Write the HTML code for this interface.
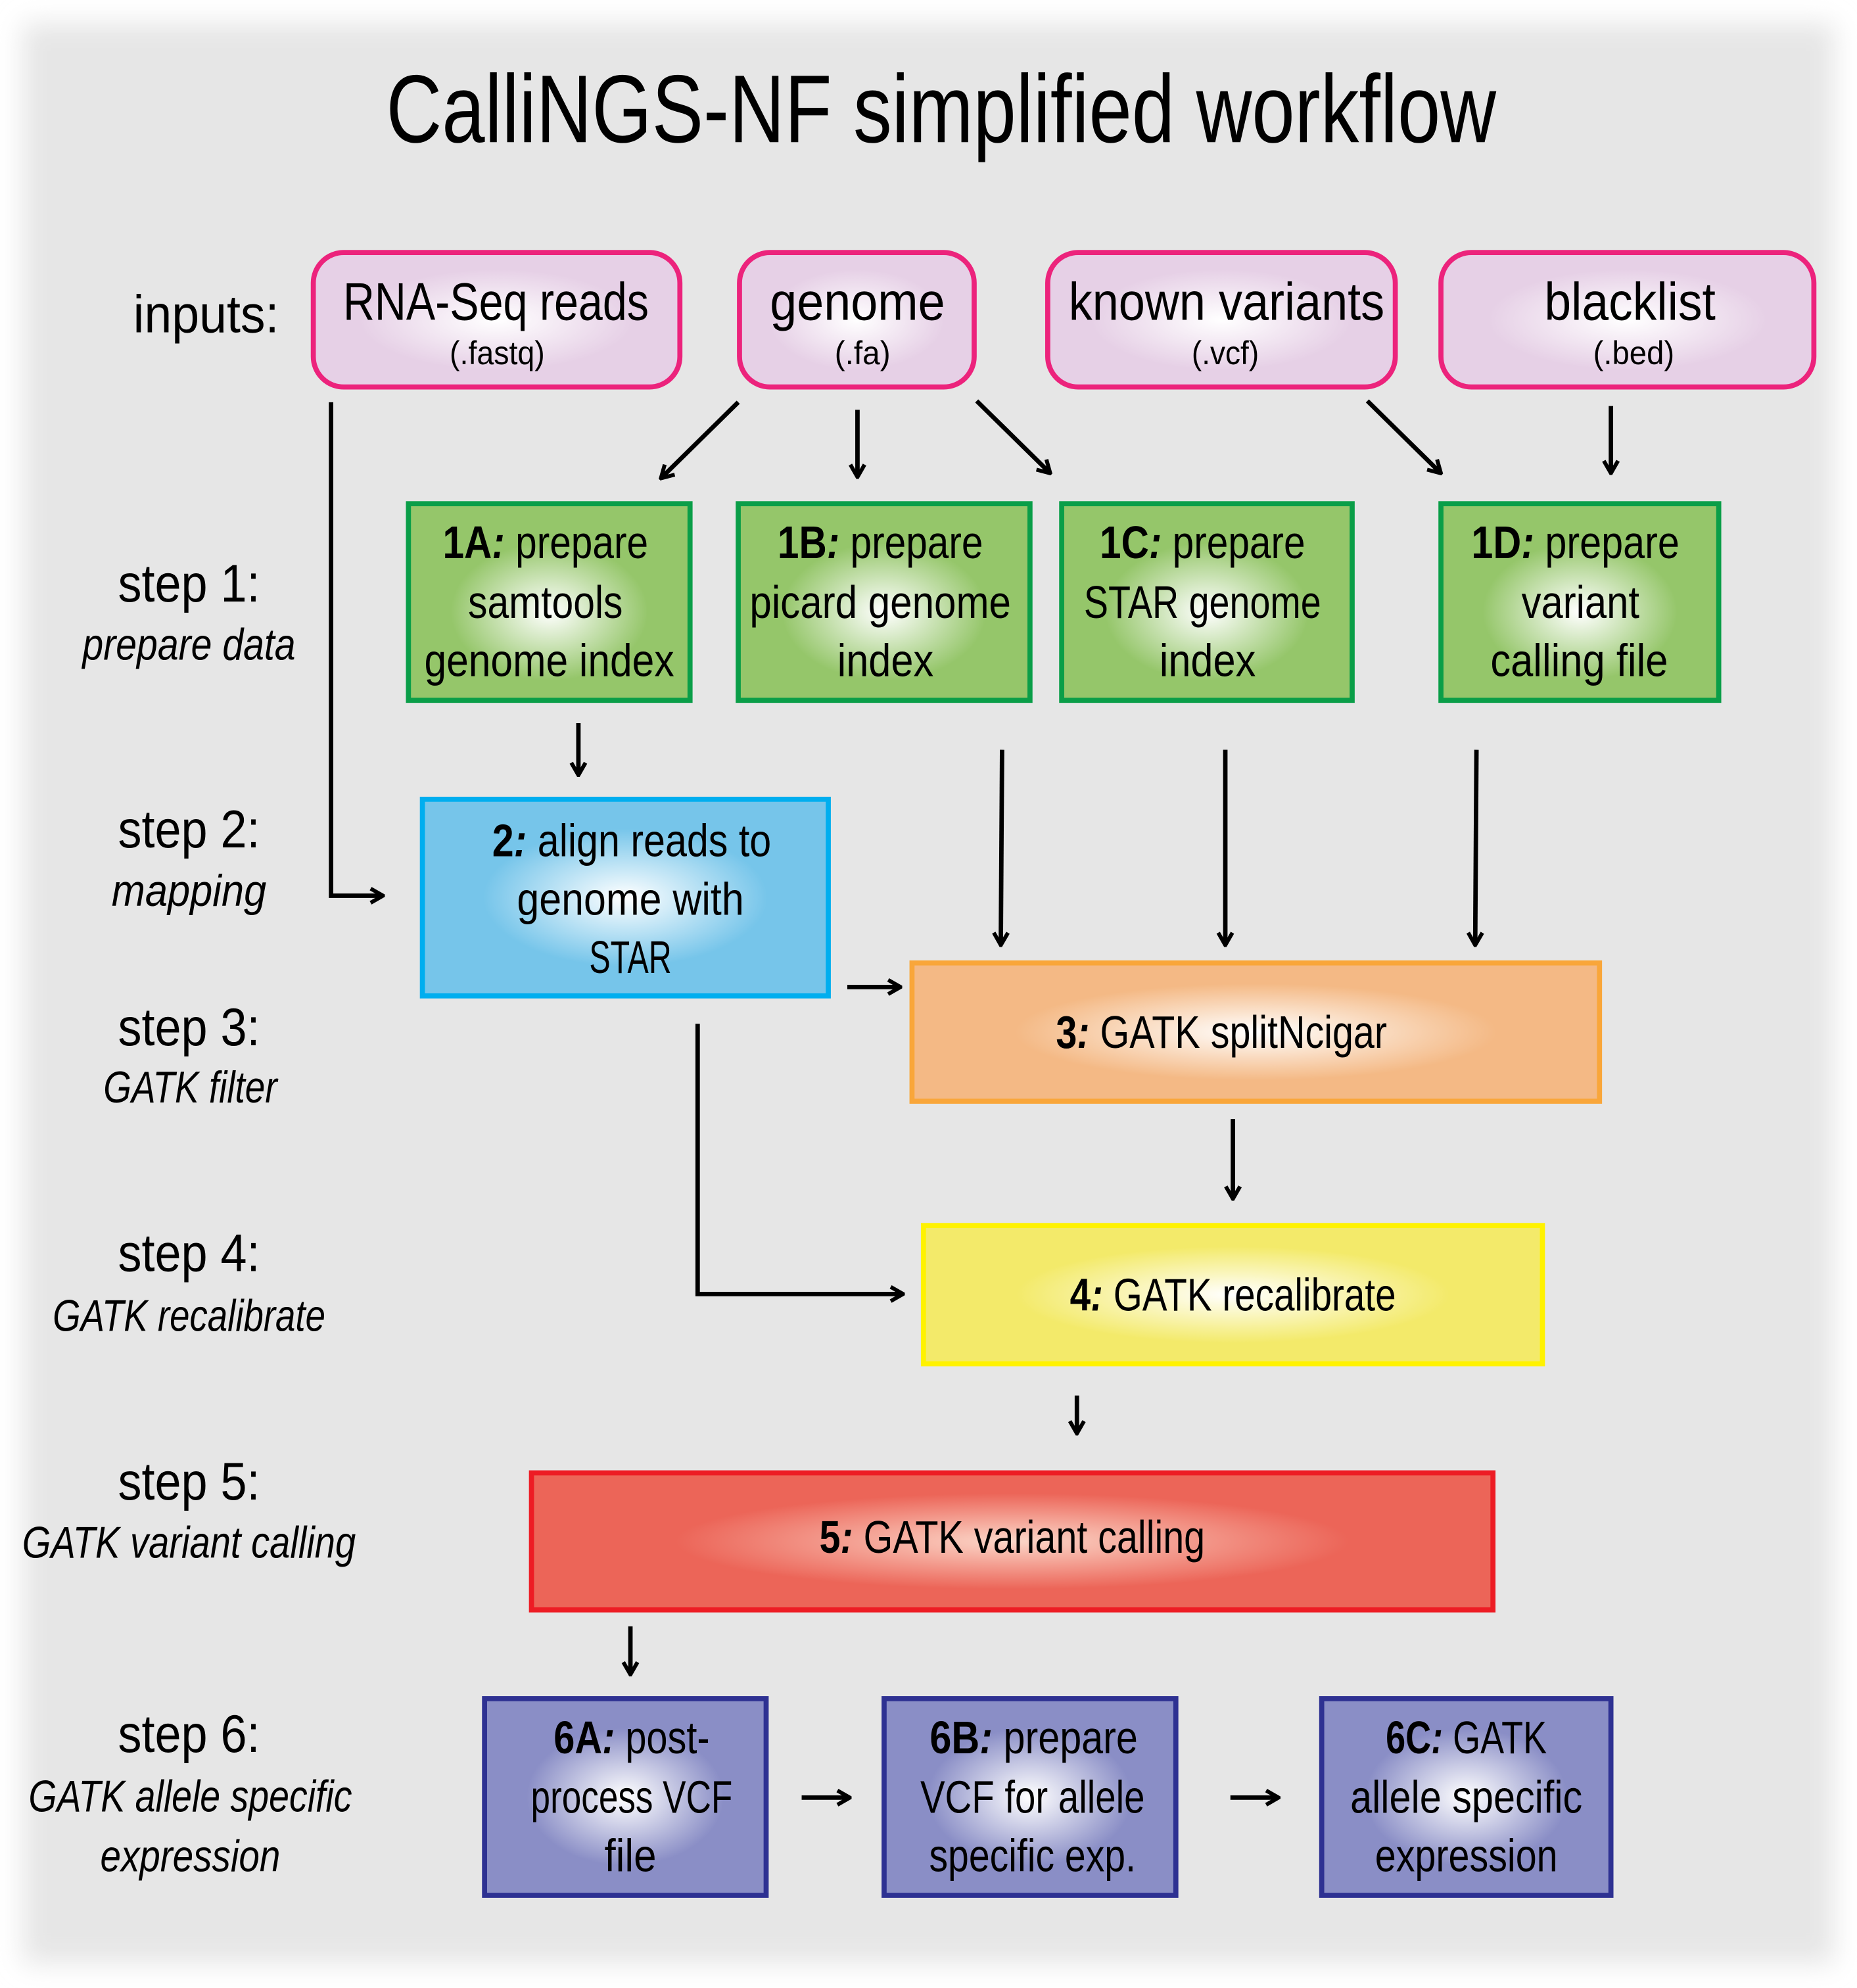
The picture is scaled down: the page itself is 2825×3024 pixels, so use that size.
<!DOCTYPE html>
<html><head><meta charset="utf-8"><style>
html,body{margin:0;padding:0;background:#fff;}
svg{display:block;}
text{font-family:"Liberation Sans Narrow","Liberation Sans",sans-serif;fill:#000;}
</style></head><body>
<svg width="2825" height="3024" viewBox="0 0 1464 1567" xmlns="http://www.w3.org/2000/svg">
<defs>
<filter id="blur" x="-5%" y="-5%" width="110%" height="110%"><feGaussianBlur stdDeviation="10"/></filter>
<radialGradient id="gPink" cx="50%" cy="50%" r="50%"><stop offset="0" stop-color="#ffffff"/><stop offset="0.75" stop-color="#e6d0e6"/></radialGradient>
<radialGradient id="gGreen" cx="50%" cy="55%" r="50%"><stop offset="0" stop-color="#ffffff"/><stop offset="0.7" stop-color="#95c66a"/></radialGradient>
<radialGradient id="gBlue" cx="50%" cy="50%" r="50%"><stop offset="0" stop-color="#ffffff"/><stop offset="0.7" stop-color="#76c5ea"/></radialGradient>
<radialGradient id="gOrange" cx="50%" cy="50%" r="50%"><stop offset="0" stop-color="#ffffff"/><stop offset="0.7" stop-color="#f4b985"/></radialGradient>
<radialGradient id="gYellow" cx="50%" cy="50%" r="50%"><stop offset="0" stop-color="#ffffff"/><stop offset="0.7" stop-color="#f3ea6a"/></radialGradient>
<radialGradient id="gRed" cx="50%" cy="50%" r="50%"><stop offset="0" stop-color="#fbd6c8"/><stop offset="0.7" stop-color="#ec6558"/></radialGradient>
<radialGradient id="gPurple" cx="50%" cy="50%" r="50%"><stop offset="0" stop-color="#ffffff"/><stop offset="0.7" stop-color="#8a8ec6"/></radialGradient>
<marker id="ah" viewBox="0 0 10 10" refX="9" refY="5" markerWidth="4" markerHeight="4" orient="auto" markerUnits="strokeWidth">
<path d="M2,1 L9,5 L2,9" fill="none" stroke="#000" stroke-width="2.2"/></marker>
</defs>
<rect x="0" y="0" width="1464" height="1567" fill="#fff"/>
<rect x="18" y="18" width="1428" height="1530" fill="#e6e6e6" filter="url(#blur)"/>

<text x="742" y="112" font-size="76" text-anchor="middle" textLength="875" lengthAdjust="spacingAndGlyphs">CalliNGS-NF simplified workflow</text>

<!-- inputs -->
<text x="105" y="262" font-size="42" textLength="115" lengthAdjust="spacingAndGlyphs">inputs:</text>
<g stroke="#ec237c" stroke-width="4">
<rect x="247" y="199" width="289" height="106" rx="24" fill="url(#gPink)"/>
<rect x="583" y="199" width="185" height="106" rx="24" fill="url(#gPink)"/>
<rect x="826" y="199" width="274" height="106" rx="24" fill="url(#gPink)"/>
<rect x="1136" y="199" width="294" height="106" rx="24" fill="url(#gPink)"/>
</g>
<g font-size="42" text-anchor="middle">
<text x="391" y="252" textLength="241" lengthAdjust="spacingAndGlyphs">RNA-Seq reads</text>
<text x="676" y="252" textLength="138" lengthAdjust="spacingAndGlyphs">genome</text>
<text x="967" y="252" textLength="249" lengthAdjust="spacingAndGlyphs">known variants</text>
<text x="1285" y="252" textLength="135" lengthAdjust="spacingAndGlyphs">blacklist</text>
</g>
<g font-size="26" text-anchor="middle">
<text x="392" y="287" textLength="75" lengthAdjust="spacingAndGlyphs">(.fastq)</text>
<text x="680" y="287" textLength="44" lengthAdjust="spacingAndGlyphs">(.fa)</text>
<text x="966" y="287" textLength="53" lengthAdjust="spacingAndGlyphs">(.vcf)</text>
<text x="1288" y="287" textLength="64" lengthAdjust="spacingAndGlyphs">(.bed)</text>
</g>

<!-- left labels -->
<g font-size="42" text-anchor="middle">
<text x="149" y="474" textLength="112" lengthAdjust="spacingAndGlyphs">step 1:</text>
<text x="149" y="668" textLength="112" lengthAdjust="spacingAndGlyphs">step 2:</text>
<text x="149" y="824" textLength="112" lengthAdjust="spacingAndGlyphs">step 3:</text>
<text x="149" y="1002" textLength="112" lengthAdjust="spacingAndGlyphs">step 4:</text>
<text x="149" y="1182" textLength="112" lengthAdjust="spacingAndGlyphs">step 5:</text>
<text x="149" y="1381" textLength="112" lengthAdjust="spacingAndGlyphs">step 6:</text>
</g>
<g font-size="35" font-style="italic" text-anchor="middle">
<text x="149" y="520" textLength="168" lengthAdjust="spacingAndGlyphs">prepare data</text>
<text x="149" y="714" textLength="122" lengthAdjust="spacingAndGlyphs">mapping</text>
<text x="150" y="869" textLength="137" lengthAdjust="spacingAndGlyphs">GATK filter</text>
<text x="149" y="1049" textLength="215" lengthAdjust="spacingAndGlyphs">GATK recalibrate</text>
<text x="149" y="1228" textLength="263" lengthAdjust="spacingAndGlyphs">GATK variant calling</text>
<text x="150" y="1428" textLength="255" lengthAdjust="spacingAndGlyphs">GATK allele specific</text>
<text x="150" y="1475" textLength="142" lengthAdjust="spacingAndGlyphs">expression</text>
</g>

<!-- step 1 boxes -->
<g stroke="#0a9e48" stroke-width="4" fill="url(#gGreen)">
<rect x="322" y="397" width="222" height="155"/>
<rect x="582" y="397" width="230" height="155"/>
<rect x="837" y="397" width="229" height="155"/>
<rect x="1136" y="397" width="219" height="155"/>
</g>
<g font-size="36" text-anchor="middle">
<text x="430" y="440" textLength="162" lengthAdjust="spacingAndGlyphs"><tspan font-weight="bold">1A</tspan><tspan font-weight="bold" font-style="italic">:</tspan> prepare</text>
<text x="430" y="487" textLength="122" lengthAdjust="spacingAndGlyphs">samtools</text>
<text x="433" y="533" textLength="197" lengthAdjust="spacingAndGlyphs">genome index</text>
<text x="694" y="440" textLength="162" lengthAdjust="spacingAndGlyphs"><tspan font-weight="bold">1B</tspan><tspan font-weight="bold" font-style="italic">:</tspan> prepare</text>
<text x="694" y="487" textLength="206" lengthAdjust="spacingAndGlyphs">picard genome</text>
<text x="698" y="533" textLength="76" lengthAdjust="spacingAndGlyphs">index</text>
<text x="948" y="440" textLength="162" lengthAdjust="spacingAndGlyphs"><tspan font-weight="bold">1C</tspan><tspan font-weight="bold" font-style="italic">:</tspan> prepare</text>
<text x="948" y="487" textLength="187" lengthAdjust="spacingAndGlyphs">STAR genome</text>
<text x="952" y="533" textLength="76" lengthAdjust="spacingAndGlyphs">index</text>
<text x="1242" y="440" textLength="164" lengthAdjust="spacingAndGlyphs"><tspan font-weight="bold">1D</tspan><tspan font-weight="bold" font-style="italic">:</tspan> prepare</text>
<text x="1246" y="487" textLength="93" lengthAdjust="spacingAndGlyphs">variant</text>
<text x="1245" y="533" textLength="140" lengthAdjust="spacingAndGlyphs">calling file</text>
</g>

<!-- step 2 -->
<rect x="333" y="630" width="320" height="155" fill="url(#gBlue)" stroke="#00aeef" stroke-width="4"/>
<g font-size="36" text-anchor="middle">
<text x="498" y="675" textLength="220" lengthAdjust="spacingAndGlyphs"><tspan font-weight="bold">2</tspan><tspan font-weight="bold" font-style="italic">:</tspan> align reads to</text>
<text x="497" y="721" textLength="179" lengthAdjust="spacingAndGlyphs">genome with</text>
<text x="497" y="767" textLength="65" lengthAdjust="spacingAndGlyphs">STAR</text>
</g>

<!-- step 3 -->
<rect x="719" y="759" width="542" height="109" fill="url(#gOrange)" stroke="#f9a63a" stroke-width="4"/>
<text x="963" y="826" font-size="36" text-anchor="middle" textLength="261" lengthAdjust="spacingAndGlyphs"><tspan font-weight="bold">3</tspan><tspan font-weight="bold" font-style="italic">:</tspan> GATK splitNcigar</text>

<!-- step 4 -->
<rect x="728" y="966" width="488" height="109" fill="url(#gYellow)" stroke="#fff200" stroke-width="4"/>
<text x="972" y="1033" font-size="36" text-anchor="middle" textLength="257" lengthAdjust="spacingAndGlyphs"><tspan font-weight="bold">4</tspan><tspan font-weight="bold" font-style="italic">:</tspan> GATK recalibrate</text>

<!-- step 5 -->
<rect x="419" y="1161" width="758" height="108" fill="url(#gRed)" stroke="#ed1c24" stroke-width="4"/>
<text x="798" y="1224" font-size="36" text-anchor="middle" textLength="304" lengthAdjust="spacingAndGlyphs"><tspan font-weight="bold">5</tspan><tspan font-weight="bold" font-style="italic">:</tspan> GATK variant calling</text>

<!-- step 6 -->
<g stroke="#2e3192" stroke-width="4" fill="url(#gPurple)">
<rect x="382" y="1339" width="222" height="155"/>
<rect x="697" y="1339" width="230" height="155"/>
<rect x="1042" y="1339" width="228" height="155"/>
</g>
<g font-size="36" text-anchor="middle">
<text x="498" y="1382" textLength="123" lengthAdjust="spacingAndGlyphs"><tspan font-weight="bold">6A</tspan><tspan font-weight="bold" font-style="italic">:</tspan> post-</text>
<text x="498" y="1429" textLength="159" lengthAdjust="spacingAndGlyphs">process VCF</text>
<text x="497" y="1475" textLength="41" lengthAdjust="spacingAndGlyphs">file</text>
<text x="815" y="1382" textLength="164" lengthAdjust="spacingAndGlyphs"><tspan font-weight="bold">6B</tspan><tspan font-weight="bold" font-style="italic">:</tspan> prepare</text>
<text x="814" y="1429" textLength="177" lengthAdjust="spacingAndGlyphs">VCF for allele</text>
<text x="814" y="1475" textLength="163" lengthAdjust="spacingAndGlyphs">specific exp.</text>
<text x="1156" y="1382" textLength="127" lengthAdjust="spacingAndGlyphs"><tspan font-weight="bold">6C</tspan><tspan font-weight="bold" font-style="italic">:</tspan> GATK</text>
<text x="1156" y="1429" textLength="183" lengthAdjust="spacingAndGlyphs">allele specific</text>
<text x="1156" y="1475" textLength="144" lengthAdjust="spacingAndGlyphs">expression</text>
</g>

<!-- connectors -->
<g stroke="#000" stroke-width="3.5" fill="none" marker-end="url(#ah)">
<polyline points="261,317 261,706 302,706"/>
<line x1="582" y1="317" x2="521" y2="377"/>
<line x1="676" y1="323" x2="676" y2="376"/>
<line x1="770" y1="316" x2="828" y2="373"/>
<line x1="1078" y1="316" x2="1136" y2="373"/>
<line x1="1270" y1="320" x2="1270" y2="373"/>
<line x1="456" y1="570" x2="456" y2="611"/>
<line x1="790" y1="591" x2="789" y2="745"/>
<line x1="966" y1="591" x2="966" y2="745"/>
<line x1="1164" y1="591" x2="1163" y2="745"/>
<line x1="668" y1="778" x2="710" y2="778"/>
<polyline points="550,807 550,1020 712,1020"/>
<line x1="972" y1="882" x2="972" y2="945"/>
<line x1="849" y1="1100" x2="849" y2="1130"/>
<line x1="497" y1="1282" x2="497" y2="1320"/>
<line x1="632" y1="1417" x2="670" y2="1417"/>
<line x1="970" y1="1417" x2="1008" y2="1417"/>
</g>
</svg>
</body></html>
